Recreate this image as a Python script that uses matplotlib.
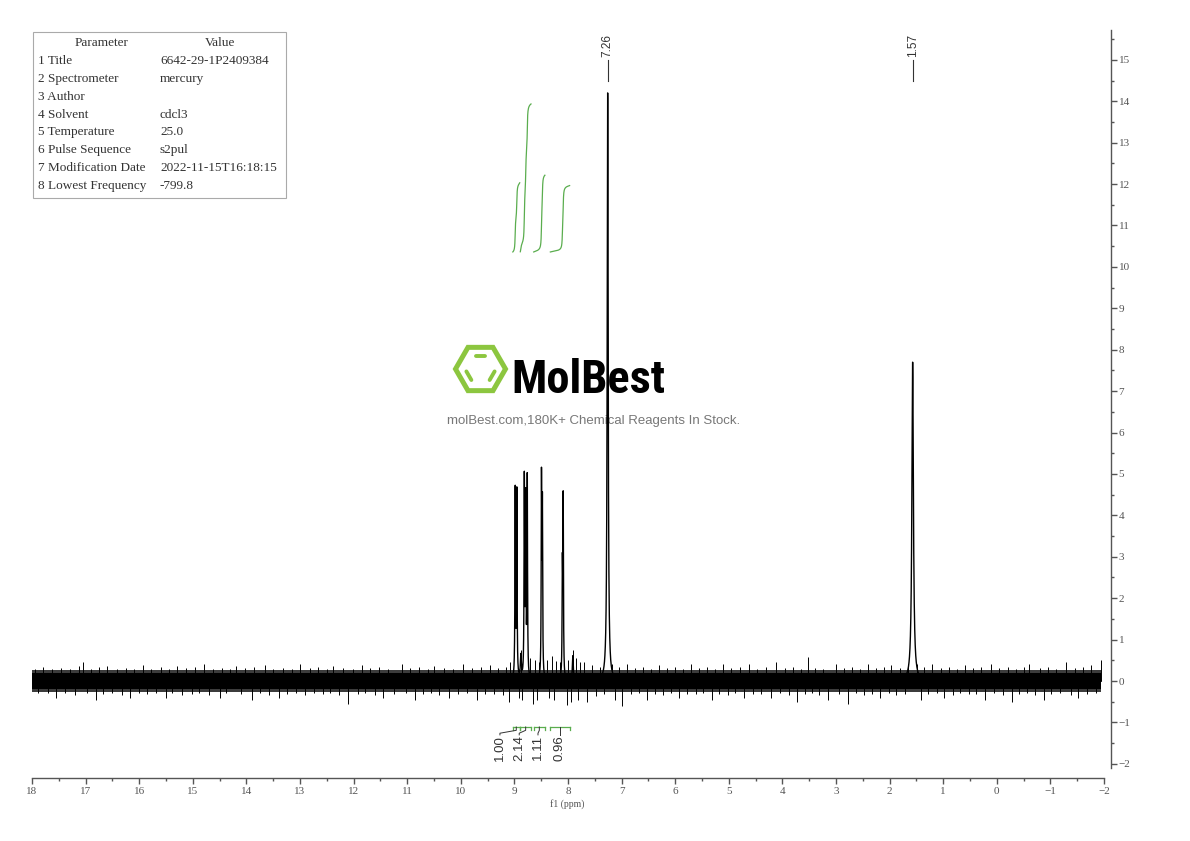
import numpy as np
import matplotlib
matplotlib.use("Agg")
import matplotlib.pyplot as plt
from matplotlib import font_manager
from matplotlib.patches import Rectangle, RegularPolygon
from matplotlib.ticker import MultipleLocator

# peaks of the 1H spectrum (ppm, height, half width)
peak_ppm = [8.985, 8.955, 8.88, 8.815, 8.79, 8.76, 8.495, 8.478, 8.105, 8.09, 7.91, 7.26, 1.57]
peak_height = [4.55, 4.5, 0.55, 4.75, 4.2, 4.8, 4.7, 4.05, 2.5, 4.25, 0.6, 14.2, 7.7]
peak_width = [0.006, 0.006, 0.01, 0.006, 0.006, 0.006, 0.006, 0.006, 0.006, 0.006, 0.01, 0.011, 0.017]

# labelled peaks on top
label_ppm = [7.26, 1.57]

# integrals: region start, region end, value
integ_start = [9.03, 8.89, 8.64, 8.33]
integ_end = [8.90, 8.69, 8.43, 7.97]
integ_value = [1.00, 2.14, 1.11, 0.96]
integ_text = ["1.00", "2.14", "1.11", "0.96"]
integ_label_ppm = [9.27, 8.91, 8.56, 8.15]

# baseline noise: dense core, hairy fringe and the bigger spikes
band_ppm = [18, -1.95]
band_hi = [0.2, 0.2]
band_lo = [-0.19, -0.19]
fringe_hi = [0.27, 0.27]
fringe_lo = [-0.26, -0.26]

spike_up_ppm = [17.95, 17.8, 17.62, 17.45, 17.3, 17.12, 17.05, 16.9, 16.75, 16.6, 16.42, 16.25, 16.1,
                15.92, 15.78, 15.6, 15.45, 15.3, 15.12, 14.95, 14.8, 14.62, 14.45, 14.3, 14.2, 14.02,
                13.85, 13.65, 13.5, 13.32, 13.15, 13.0, 12.82, 12.66, 12.5, 12.38, 12.2, 12.02, 11.85,
                11.7, 11.52, 11.35, 11.1, 10.95, 10.78, 10.62, 10.5, 10.32, 10.15, 9.95, 9.8, 9.62,
                9.45, 9.3, 9.15, 9.08, 8.88, 8.7, 8.62, 8.55, 8.4, 8.3, 8.22, 8.15, 8.0, 7.91, 7.85,
                7.78, 7.7, 7.55, 7.4, 7.18, 7.05, 6.9, 6.75, 6.6, 6.45, 6.3, 6.15, 6.0, 5.85, 5.7,
                5.55, 5.4, 5.25, 5.1, 4.95, 4.8, 4.62, 4.48, 4.3, 4.12, 3.95, 3.8, 3.65, 3.52, 3.4,
                3.25, 3.0, 2.85, 2.7, 2.55, 2.4, 2.25, 2.1, 1.98, 1.8, 1.66, 1.48, 1.35, 1.2, 1.05,
                0.9, 0.75, 0.6, 0.45, 0.3, 0.1, -0.05, -0.2, -0.35, -0.5, -0.6, -0.8, -0.95, -1.1,
                -1.3, -1.45, -1.6, -1.75, -1.95]
spike_up_val = [0.3, 0.35, 0.28, 0.32, 0.3, 0.36, 0.45, 0.3, 0.33, 0.36, 0.3, 0.32, 0.29,
                0.38, 0.3, 0.34, 0.3, 0.36, 0.31, 0.33, 0.4, 0.3, 0.32, 0.29, 0.36, 0.31,
                0.33, 0.38, 0.3, 0.32, 0.3, 0.4, 0.31, 0.34, 0.3, 0.36, 0.32, 0.3, 0.38,
                0.31, 0.33, 0.3, 0.42, 0.31, 0.34, 0.3, 0.36, 0.32, 0.3, 0.4, 0.31, 0.33,
                0.38, 0.31, 0.34, 0.45, 0.75, 0.55, 0.5, 0.45, 0.5, 0.6, 0.48, 0.45, 0.5, 0.75, 0.55,
                0.45, 0.45, 0.38, 0.35, 0.4, 0.33, 0.4, 0.31, 0.34, 0.3, 0.38, 0.31, 0.33, 0.3, 0.4,
                0.31, 0.33, 0.3, 0.42, 0.31, 0.34, 0.4, 0.3, 0.33, 0.45, 0.31, 0.34, 0.3, 0.58, 0.32,
                0.3, 0.4, 0.31, 0.33, 0.3, 0.42, 0.31, 0.33, 0.38, 0.32, 0.4, 0.42, 0.33, 0.4, 0.31,
                0.33, 0.3, 0.38, 0.31, 0.33, 0.42, 0.31, 0.34, 0.3, 0.33, 0.4, 0.31, 0.33, 0.3,
                0.45, 0.32, 0.34, 0.38, 0.5]
spike_dn_ppm = [17.88, 17.7, 17.55, 17.38, 17.2, 16.98, 16.8, 16.68, 16.5, 16.33, 16.18, 16.0,
                15.85, 15.68, 15.5, 15.38, 15.2, 15.02, 14.88, 14.7, 14.5, 14.38, 14.1, 13.9,
                13.75, 13.58, 13.4, 13.25, 13.08, 12.9, 12.74, 12.58, 12.44, 12.28, 12.1, 11.92,
                11.78, 11.6, 11.45, 11.25, 11.02, 10.86, 10.7, 10.56, 10.4, 10.22, 10.05, 9.88,
                9.7, 9.55, 9.38, 9.22, 9.1, 8.92, 8.85, 8.65, 8.58, 8.36, 8.26, 8.02, 7.95, 7.82,
                7.65, 7.48, 7.32, 7.12, 7.0, 6.82, 6.68, 6.52, 6.38, 6.22, 6.08, 5.92, 5.78, 5.62,
                5.48, 5.32, 5.18, 5.02, 4.88, 4.72, 4.55, 4.4, 4.22, 4.05, 3.88, 3.72, 3.58, 3.45,
                3.32, 3.15, 2.95, 2.78, 2.62, 2.48, 2.32, 2.18, 2.02, 1.88, 1.72, 1.42, 1.28, 1.12,
                0.98, 0.82, 0.68, 0.52, 0.38, 0.22, 0.05, -0.12, -0.28, -0.42, -0.56, -0.72, -0.88,
                -1.02, -1.18, -1.38, -1.52, -1.68, -1.85]
spike_dn_val = [-0.3, -0.28, -0.4, -0.3, -0.33, -0.29, -0.45, -0.31, -0.3, -0.34, -0.4, -0.3,
                -0.32, -0.3, -0.42, -0.3, -0.33, -0.31, -0.3, -0.34, -0.4, -0.3, -0.32, -0.45,
                -0.3, -0.33, -0.4, -0.31, -0.3, -0.34, -0.3, -0.32, -0.3, -0.33, -0.55, -0.31,
                -0.3, -0.34, -0.42, -0.31, -0.3, -0.45, -0.32, -0.3, -0.33, -0.4, -0.31, -0.3,
                -0.45, -0.32, -0.31, -0.34, -0.5, -0.4, -0.45, -0.55, -0.45, -0.42, -0.45, -0.58, -0.5, -0.45,
                -0.5, -0.35, -0.32, -0.45, -0.6, -0.32, -0.3, -0.45, -0.31, -0.33, -0.3, -0.42, -0.31, -0.32,
                -0.3, -0.45, -0.31, -0.33, -0.3, -0.4, -0.32, -0.31, -0.42, -0.3, -0.34, -0.5, -0.31, -0.3,
                -0.33, -0.45, -0.31, -0.55, -0.3, -0.33, -0.31, -0.42, -0.3, -0.34, -0.32, -0.45, -0.31, -0.3,
                -0.42, -0.33, -0.3, -0.32, -0.31, -0.45, -0.3, -0.33, -0.5, -0.31, -0.3, -0.34, -0.45,
                -0.31, -0.3, -0.33, -0.42, -0.31, -0.3]

# parameter table
param_names = ["1 Title", "2 Spectrometer", "3 Author", "4 Solvent", "5 Temperature",
               "6 Pulse Sequence", "7 Modification Date", "8 Lowest Frequency"]
param_values = ["6642-29-1P2409384", "mercury", "", "cdcl3", "25.0", "s2pul",
                "2022-11-15T16:18:15", "-799.8"]

W, H = 1190, 841
fig = plt.figure(figsize=(W / 100, H / 100), dpi=100)

# background axes in pixel units for the table and watermark
bg = fig.add_axes([0, 0, 1, 1], zorder=0)
bg.set_xlim(0, W)
bg.set_ylim(H, 0)
bg.axis("off")

ax = fig.add_axes([32 / W, 1 - 768 / H, (1104 - 32) / W, (768 - 30) / H], zorder=1)
ax.patch.set_alpha(0)

serif = "Liberation Serif"
gray = "#555555"
green = "#5aad4e"

# spectrum
ppm = np.linspace(18, -1.95, 20001)
spec = np.zeros_like(ppm)
for c, h, w in zip(peak_ppm, peak_height, peak_width):
    spec += h / (1 + ((ppm - c) / w) ** 2)

ax.fill_between(band_ppm, fringe_lo, fringe_hi, color="#3c3c3c", lw=0)
ax.fill_between(band_ppm, band_lo, band_hi, color="k", lw=0)
ax.vlines(spike_up_ppm, 0, spike_up_val, color="k", lw=0.7)
ax.vlines(spike_dn_ppm, 0, spike_dn_val, color="k", lw=0.7)
ax.plot(ppm, spec, color="k", lw=1.0)

# peak labels
for p in label_ppm:
    ax.text(p, 15.62, f"{p:.2f}", rotation=90, ha="center", va="top",
            fontsize=8.5, color="#333333", family="Liberation Sans")
    ax.plot([p, p], [15.0, 14.5], color="#333333", lw=0.8)

# integral curves
scale = 1.67
base = 10.36
for s, e, v in zip(integ_start, integ_end, integ_value):
    m = (ppm <= s) & (ppm >= e)
    cum = np.cumsum(spec[m])
    cum = cum / cum[-1] * v * scale + base
    ax.plot(ppm[m], cum, color=green, lw=0.9)

# integral brackets and labels
yb = -1.11
for s, e, t, lp in zip(integ_start, integ_end, integ_text, integ_label_ppm):
    ax.plot([s, e], [yb, yb], color=green, lw=0.9)
    ax.plot([s, s], [yb, yb - 0.07], color=green, lw=0.9)
    ax.plot([e, e], [yb, yb - 0.07], color=green, lw=0.9)
    mid = (s + e) / 2
    ax.plot([lp, lp, mid, mid], [-1.3, -1.26, -1.19, yb], color="#333333", lw=0.7)
    ax.text(lp, -1.31, t, rotation=90, ha="center", va="top", fontsize=9.5,
            color="#333333", family="Liberation Sans")

ax.set_xlim(18, -2)
ax.set_ylim(-2.1, 15.72)

for side in ["left", "top"]:
    ax.spines[side].set_visible(False)
ax.spines["bottom"].set_position(("outward", 7))
ax.spines["right"].set_position(("outward", 5))
for side in ["bottom", "right"]:
    ax.spines[side].set_color(gray)
    ax.spines[side].set_linewidth(1.0)

ax.xaxis.set_major_locator(MultipleLocator(1))
ax.xaxis.set_minor_locator(MultipleLocator(0.5))
ax.yaxis.set_major_locator(MultipleLocator(1))
ax.yaxis.set_minor_locator(MultipleLocator(0.5))
ax.yaxis.tick_right()
ax.tick_params(which="major", length=4, width=1.0, color=gray, labelcolor=gray,
               labelsize=8, pad=2.5)
ax.tick_params(which="minor", length=2.2, width=1.0, color=gray)
ax.tick_params(axis="y", pad=1.5)
for lab in ax.get_xticklabels() + ax.get_yticklabels():
    lab.set_family(serif)

bg.text(567, 804, "f1 (ppm)", ha="center", va="center", fontsize=7, color=gray, family=serif)

# parameter table
bg.add_patch(Rectangle((33, 32), 253, 166, fill=False, ec="#aaaaaa", lw=0.8))
bg.text(102, 43, "Parameter", ha="center", va="center", fontsize=9.5, color="#333333", family=serif)
bg.text(220, 43, "Value", ha="center", va="center", fontsize=9.5, color="#333333", family=serif)
for i, (n, v) in enumerate(zip(param_names, param_values)):
    y = 61 + 17.85 * i
    bg.text(38, y, n, ha="left", va="center", fontsize=9.5, color="#333333", family=serif)
    bg.text(160, y, v, ha="left", va="center", fontsize=9.5, color="#333333", family=serif)

# watermark logo
cx, cy, r = 480.5, 369, 25
bg.add_patch(RegularPolygon((cx, cy), 6, radius=r, orientation=np.pi / 6,
                            fill=False, ec="#8cc63f", lw=3.6))
for a1, a2 in [(60, 120), (180, 240), (300, 360)]:
    p1 = np.array([cx + r * np.cos(np.radians(a1)), cy - r * np.sin(np.radians(a1))])
    p2 = np.array([cx + r * np.cos(np.radians(a2)), cy - r * np.sin(np.radians(a2))])
    c = np.array([cx, cy])
    q1 = c + (p1 - c) * 0.62
    q2 = c + (p2 - c) * 0.62
    d = (q2 - q1) * 0.18
    bg.plot([q1[0] + d[0], q2[0] - d[0]], [q1[1] + d[1], q2[1] - d[1]],
            color="#8cc63f", lw=2.8, solid_capstyle="round")

# pick the narrowest sans font available for the logo word
names = {f.name for f in font_manager.fontManager.ttflist}
logo_family, logo_stretch = "DejaVu Sans", "normal"
for cand in ["Liberation Sans Narrow", "Roboto Condensed", "Open Sans Condensed"]:
    if cand in names:
        logo_family = cand
        break
else:
    if any(f.name == "DejaVu Sans" and f.stretch == "condensed" for f in font_manager.fontManager.ttflist):
        logo_stretch = "condensed"
logo = bg.text(511, 393, "MolBest", ha="left", va="baseline", fontsize=40, color="k",
               family=logo_family, fontstretch=logo_stretch, fontweight="bold")
renderer = fig.canvas.get_renderer()
wpx = logo.get_window_extent(renderer).width
if wpx > 154:
    logo.set_fontsize(40 * 154 / wpx)

bg.text(594, 421, "molBest.com,180K+ Chemical Reagents In Stock.", ha="center", va="center",
        fontsize=9.5, color="#777777", family="Liberation Sans")

fig.savefig("out.png", dpi=100)
